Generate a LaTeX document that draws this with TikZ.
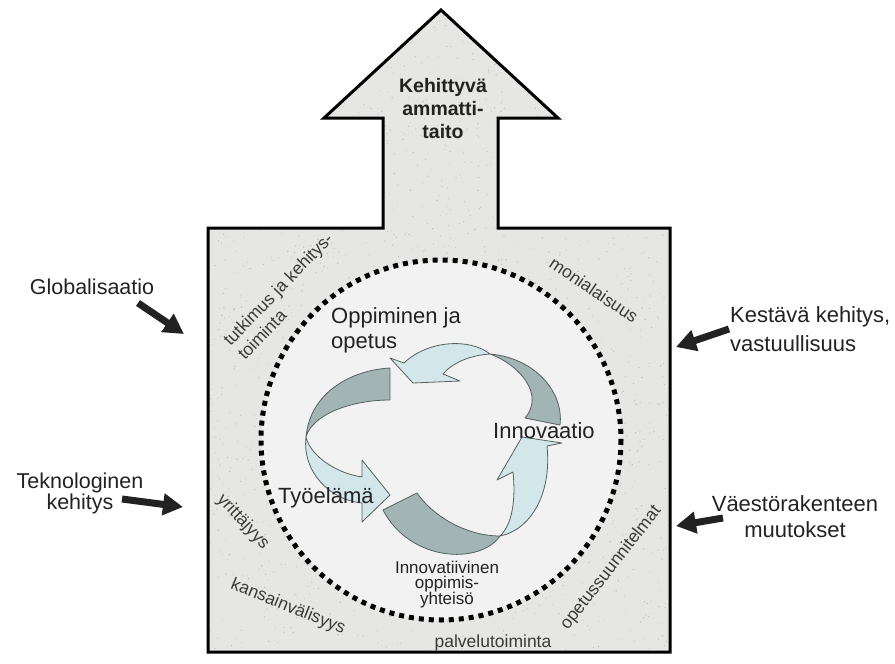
\documentclass[tikz,border=0pt]{standalone}
\usepackage{fontspec}
\setmainfont{Liberation Sans}
\usetikzlibrary{arrows.meta}
\definecolor{ink}{HTML}{222222}
\definecolor{band}{HTML}{3A3A3A}
\definecolor{stone}{HTML}{E6E6E4}
\definecolor{disc}{HTML}{F2F2F2}
\definecolor{ribdark}{HTML}{A2B4B4}
\definecolor{riblight}{HTML}{D3E7EB}
\definecolor{ribedge}{HTML}{56615F}

\tikzset{
  force/.style={line width=7pt,-{Triangle[length=20pt,width=21pt]},ink},
  outer/.style={text=ink,inner sep=0pt},
  inner/.style={font=\fontsize{22}{25}\selectfont,text=ink,inner sep=0pt},
  theme/.style={font=\fontsize{17.5}{20}\selectfont,text=band,inner sep=0pt},
  ribbon/.style={draw=ribedge,line width=0.8pt,line join=round},
}

\begin{document}
\begin{tikzpicture}[x=1pt,y=-1pt]
  \useasboundingbox (0,0) rectangle (895,664);
  \def\house{(208,228) -- (383,228) -- (383,118) -- (324,118) -- (441,10) -- (558,118)
    -- (498,118) -- (498,228) -- (670,228) -- (670,652) -- (208,652) -- cycle}
  % stone background with some grain
  \fill[stone] \house;
  \begin{scope}
    \clip \house;
    \pgfmathsetseed{11}
    \foreach \k in {1,...,2000}{
      \pgfmathsetmacro\sx{208+462*rnd}
      \pgfmathsetmacro\sy{10+642*rnd}
      \pgfmathsetmacro\sg{5+15*rnd}
      \fill[black!\sg!stone] (\sx,\sy) circle (0.7);
    }
  \end{scope}
  \fill[disc] (441,440) circle[radius=179];
  \draw[line width=5pt,dash pattern=on 5pt off 5pt] (441,440) circle[radius=180];
  \draw[line width=3pt,line join=miter] \house;

  % the cycle in the middle
  \filldraw[ribbon,fill=ribdark] (390,368) .. controls (352,370) and (310,392) .. (306,437)
    .. controls (312,415) and (350,400) .. (390,400) -- cycle;
  \filldraw[ribbon,fill=riblight] (306,437) .. controls (302,472) and (330,500) .. (362,503)
    -- (362,522) -- (390,495) -- (362,460) -- (362,477)
    .. controls (335,473) and (310,455) .. (306,437) -- cycle;
  \filldraw[ribbon,fill=ribdark] (383,510) -- (417,493) .. controls (432,515) and (465,536) .. (500,536)
    .. controls (480,565) and (410,562) .. (383,510) -- cycle;
  \filldraw[ribbon,fill=riblight] (500,536) .. controls (530,530) and (552,495) .. (547,446)
    -- (562,443) -- (522,437) -- (497,480) -- (513,472)
    .. controls (516,500) and (512,525) .. (500,536) -- cycle;
  \filldraw[ribbon,fill=ribdark] (525,418) -- (560,425) .. controls (564,392) and (535,358) .. (490,354)
    .. controls (520,365) and (545,395) .. (525,418) -- cycle;
  \filldraw[ribbon,fill=riblight] (490,354) .. controls (470,338) and (428,340) .. (404,363)
    -- (390,358) -- (413,383) -- (460,381) -- (443,374)
    .. controls (455,360) and (475,355) .. (490,354) -- cycle;

  % texts inside
  \node[outer,font=\bfseries\fontsize{19.5}{23}\selectfont,align=center,anchor=north] (hdr) at (443,78)
    {Kehittyvä\\ammatti-\\taito};
  \node[inner,align=left,anchor=north west] (opp) at (331,307) {Oppiminen ja\\opetus};
  \node[inner,anchor=base west] (inno) at (493,438) {Innovaatio};
  \node[inner,anchor=base west] (tyo) at (278,503) {Työelämä};
  \node[outer,font=\fontsize{17}{14.5}\selectfont,align=center,anchor=north] (yhteiso) at (447,561)
    {Innovatiivinen\\oppimis-\\yhteisö};

  % themes round the circle
  \node[theme,rotate=46,align=left] (tki) at (285,296) {tutkimus ja kehitys-\\toiminta};
  \node[theme,rotate=-34] (monial) at (594,290) {monialaisuus};
  \node[theme,rotate=-47] (yritt) at (243,522) {yrittäjyys};
  \node[theme,rotate=-22] (kansv) at (288,607) {kansainvälisyys};
  \node[theme] (palv) at (493,643) {palvelutoiminta};
  \node[theme,rotate=52] (ops) at (611,568) {opetussuunnitelmat};

  % outside forces
  \node[outer,font=\fontsize{21.5}{21}\selectfont,anchor=base] (glob) at (92,294) {Globalisaatio};
  \node[outer,font=\fontsize{21.5}{20}\selectfont,align=center,anchor=north] (tekno) at (80,473)
    {Teknologinen\\kehitys};
  \node[outer,font=\fontsize{22}{29}\selectfont,align=left,anchor=north west] (kesta) at (730,306)
    {Kestävä kehitys,\\vastuullisuus};
  \node[outer,font=\fontsize{22}{26}\selectfont,align=center,anchor=north] (vaesto) at (795,495)
    {Väestörakenteen\\muutokset};
  \coordinate (glob-a) at (138,303);  \coordinate (glob-b) at (184,334);
  \coordinate (tekno-a) at (122,499); \coordinate (tekno-b) at (183,507);
  \coordinate (kesta-a) at (729,329); \coordinate (kesta-b) at (676,347);
  \coordinate (vaesto-a) at (723,518); \coordinate (vaesto-b) at (676,526);
  \draw[force] (glob-a) -- (glob-b);
  \draw[force] (tekno-a) -- (tekno-b);
  \draw[force] (kesta-a) -- (kesta-b);
  \draw[force] (vaesto-a) -- (vaesto-b);
\end{tikzpicture}
\end{document}
